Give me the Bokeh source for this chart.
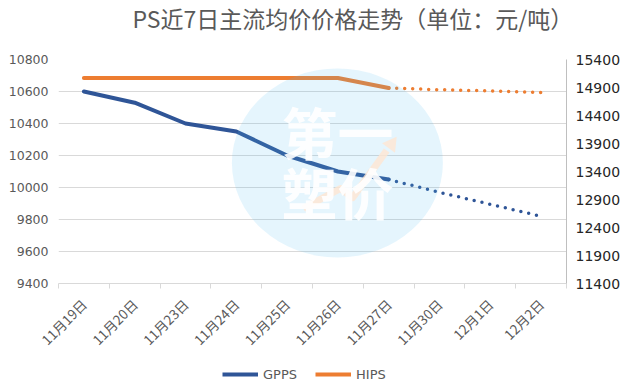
import math
from bokeh.plotting import figure
from bokeh.layouts import column
from bokeh.models import (Range1d, LinearAxis, FixedTicker, Legend, LegendItem, Label)
from bokeh.embed import file_html
from bokeh.resources import INLINE
from bokeh.core.properties import value

# ---------------- data ----------------
dates = ["11月19日", "11月20日", "11月23日", "11月24日", "11月25日",
         "11月26日", "11月27日", "11月30日", "12月1日", "12月2日"]
gpps_actual = [10600, 10530, 10400, 10350, 10200, 10100, 10050]
gpps_forecast = [10050, 9970, 9895, 9820]          # 11/27 .. 12/2 (dotted)
hips_actual = [15070, 15070, 15070, 15070, 15070, 15070, 14890]
hips_forecast = [14890, 14860, 14840, 14810]       # 11/27 .. 12/2 (dotted)
left_ticks = [9400, 9600, 9800, 10000, 10200, 10400, 10600, 10800]
right_ticks = [11400, 11900, 12400, 12900, 13400, 13900, 14400, 14900, 15400]
series_names = ["GPPS", "HIPS"]
title_text = "PS近7日主流均价价格走势（单位：元/吨）"

x_idx = list(range(len(dates)))
n_act = len(gpps_actual)
x_act = x_idx[:n_act]
x_fc = x_idx[n_act - 1:]

BLUE = "#2F5597"
ORANGE = "#ED7D31"
GRID = "#D9D9D9"
TXT = "#595959"
W = 635


def blank(height):
    f = figure(width=W, height=height, output_backend="svg", toolbar_location=None,
               x_axis_location=None, y_axis_location=None, min_border=0,
               x_range=Range1d(0, 1), y_range=Range1d(0, 1))
    f.frame_align = False
    f.grid.visible = False
    f.outline_line_color = None
    f.background_fill_color = "white"
    f.border_fill_color = "white"
    return f


# ---------------- title strip ----------------
tf = blank(40)
tf.add_layout(Label(x=132, y=23, x_units="screen", y_units="screen", text=title_text,
                    text_font="Noto Sans CJK SC", text_font_size="23px", text_color=TXT,
                    text_align="left", text_baseline="middle"))

# ---------------- main chart ----------------
p = figure(width=W, height=320, output_backend="svg", toolbar_location=None,
           x_range=Range1d(-0.5, len(dates) - 0.5),
           y_range=Range1d(left_ticks[0], left_ticks[-1]),
           min_border_left=58, min_border_right=69, min_border_top=19, min_border_bottom=77)
p.extra_y_ranges = {"right": Range1d(right_ticks[0], right_ticks[-1])}
p.outline_line_color = None
p.background_fill_color = "white"
p.border_fill_color = "white"

p.xgrid.visible = False
p.ygrid.ticker = FixedTicker(ticks=left_ticks)
p.ygrid.grid_line_color = GRID

ya = p.yaxis[0]
ya.ticker = FixedTicker(ticks=left_ticks)
ya.axis_line_color = None
ya.major_tick_line_color = None
ya.minor_tick_line_color = None
ya.major_tick_out = 0
ya.major_tick_in = 0
ya.major_label_standoff = 10
ya.major_label_text_font = "DejaVu Sans"
ya.major_label_text_font_size = "12.5px"
ya.major_label_text_color = TXT

ra = LinearAxis(y_range_name="right", ticker=FixedTicker(ticks=right_ticks))
ra.axis_line_color = "#BFBFBF"
ra.major_tick_line_color = None
ra.minor_tick_line_color = None
ra.major_tick_out = 0
ra.major_tick_in = 0
ra.major_label_standoff = 9
ra.major_label_text_font = "DejaVu Sans"
ra.major_label_text_font_size = "14px"
ra.major_label_text_color = "#262626"
p.add_layout(ra, "right")

xa = p.xaxis[0]
xa.ticker = FixedTicker(ticks=x_idx, minor_ticks=[i - 0.5 for i in range(len(dates) + 1)])
xa.major_label_overrides = {i: d for i, d in enumerate(dates)}
xa.axis_line_color = GRID
xa.major_tick_line_color = None
xa.major_tick_out = 0
xa.major_tick_in = 0
xa.minor_tick_line_color = GRID
xa.minor_tick_out = 5
xa.minor_tick_in = 0
xa.major_label_orientation = math.pi / 4
xa.major_label_standoff = 13
xa.major_label_text_font = "Noto Sans CJK SC"
xa.major_label_text_font_size = "13.5px"
xa.major_label_text_color = TXT

r_g = p.line(x_act, gpps_actual, line_color=BLUE, line_width=4, line_join="round", line_cap="round")
p.line(x_fc, gpps_forecast, line_color=BLUE, line_width=3.5, line_dash="0 8", line_cap="round")
r_h = p.line(x_act, hips_actual, line_color=ORANGE, line_width=4, line_join="round",
             line_cap="round", y_range_name="right")
p.line(x_fc, hips_forecast, line_color=ORANGE, line_width=3.5, line_dash="0 8", line_cap="round",
       y_range_name="right")

# watermark (decoration, translucent overlay)
WM_X, WM_Y = 4.99, 10153
p.ellipse(x=[WM_X], y=[WM_Y], width=211, height=189, width_units="screen", height_units="screen",
          fill_color=(80, 190, 240), fill_alpha=0.15, line_color=None)
p.line([4.32, 5.05, 5.29, 5.96], [9869, 9994, 9937, 10231], line_color="#FFE6D2",
       line_width=7, line_alpha=0.8, line_join="round")
p.scatter([6.05], [10270], marker="triangle", size=16, angle=-0.63, fill_color="#FFE6D2",
          line_color=None, fill_alpha=0.8)
p.text(x=[WM_X, WM_X], y=[10356, 9981], text=["第一", "塑价"], text_font=value("Noto Sans CJK SC"),
       text_font_style="bold", text_font_size="56px", text_color="white", text_alpha=0.9,
       text_align="center", text_baseline="middle")

# ---------------- legend strip ----------------
lf = blank(31)
proxy_g = lf.line([math.nan], [math.nan], line_color=BLUE, line_width=4)
proxy_h = lf.line([math.nan], [math.nan], line_color=ORANGE, line_width=4)
legend = Legend(items=[LegendItem(label=series_names[0], renderers=[proxy_g]),
                       LegendItem(label=series_names[1], renderers=[proxy_h])],
                orientation="horizontal", location=(222, 9),
                glyph_width=36, glyph_height=16, label_height=16, label_standoff=5, spacing=18,
                padding=0, margin=0, border_line_color=None, background_fill_alpha=0,
                label_text_font="DejaVu Sans", label_text_font_size="13px", label_text_color=TXT)
lf.add_layout(legend, "center")

layout = column(tf, p, lf, spacing=0)
open("out.html", "w").write(file_html(layout, INLINE))
